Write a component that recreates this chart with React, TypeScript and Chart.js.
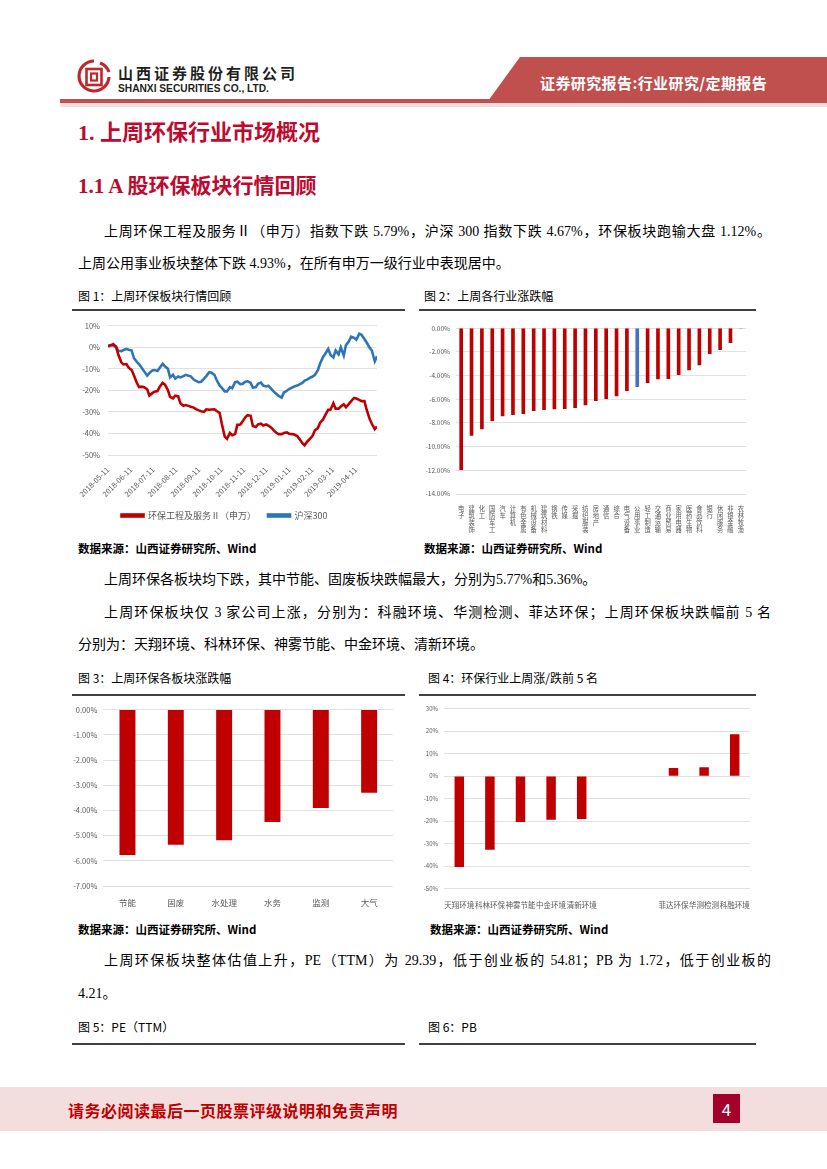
import React, { useEffect, useRef } from 'react';
import { Chart, registerables } from 'chart.js';
Chart.register(...registerables);

// ---------- Chart 1 data (weekly Friday + Tuesday readings) ----------
const fridayDates = [
  '2018-05-11','2018-05-18','2018-05-25','2018-06-01','2018-06-08','2018-06-15','2018-06-22','2018-06-29',
  '2018-07-06','2018-07-13','2018-07-20','2018-07-27','2018-08-03','2018-08-10','2018-08-17','2018-08-24','2018-08-31',
  '2018-09-07','2018-09-14','2018-09-21','2018-09-28','2018-10-05','2018-10-12','2018-10-19','2018-10-26',
  '2018-11-02','2018-11-09','2018-11-16','2018-11-23','2018-11-30','2018-12-07','2018-12-14','2018-12-21','2018-12-28',
  '2019-01-04','2019-01-11','2019-01-18','2019-01-25','2019-02-01','2019-02-08','2019-02-15','2019-02-22',
  '2019-03-01','2019-03-08','2019-03-15','2019-03-22','2019-03-29','2019-04-05','2019-04-12','2019-04-19','2019-04-26',
  '2019-05-03','2019-05-10'
];
const envFri = [0.5, 1.5, -3.5, -8, -9.5, -13, -18.5, -18.5, -22.4, -20.6, -18.3, -17.3, -23, -22.5, -26, -26.8, -27.6, -28.7, -29.7, -28.8, -28.9, -29.6, -35.5, -42.5, -40.8, -36, -34.5, -31.5, -36.5, -35.8, -36.3, -36.4, -38.5, -40.3, -39.8, -40.1, -40.5, -42.5, -45.5, -42.6, -38.5, -35, -31.5, -29, -28.5, -27.5, -27.8, -25, -23.8, -25, -29, -35.5, -36.8];
const envTue = [0.9, 0.2, -7, -7.8, -10.6, -16.5, -18.3, -19.5, -21.3, -20.3, -16.5, -19.8, -23.7, -22.8, -27.2, -27.2, -28, -29.3, -30, -29, -28.8, -30.4, -41.5, -39.8, -40.3, -35.9, -32.4, -31.8, -37, -35.5, -35.8, -37.3, -39.8, -40.3, -39.5, -40.3, -41.2, -44.5, -43.6, -41, -37.5, -33.5, -29, -26, -28.5, -26.5, -26.3, -23.5, -24.4, -25, -33.2, -38];
const hs300Fri = [0.5, 0.8, -1.6, -1.3, -1.2, -5, -7.8, -11.2, -12, -10.6, -9.5, -8.8, -14, -14.6, -14, -12.8, -13.5, -15.6, -16, -13.4, -11.8, -15.2, -18.8, -20.5, -19, -16, -17, -15.8, -18.8, -17, -17.8, -17.9, -20.5, -22.6, -21, -19.4, -18.2, -17.2, -15.5, -14.2, -12.8, -7.5, -3, -3.5, -1.5, 0, 1, 4.9, 3.5, 5.8, 2.2, -1.5, -4.2];
const hs300Tue = [1.0, 0, -1.8, -0.8, -1.5, -6.8, -9.8, -13.2, -10.8, -11, -7.7, -10, -12.8, -13.6, -13.4, -13.2, -15, -16.2, -14.6, -11.6, -12.8, -17.7, -20.5, -18.5, -16.2, -17.1, -16, -16.5, -18.5, -16.4, -18.2, -19.3, -21.7, -23.4, -20.2, -18.7, -17.8, -16.6, -14.9, -13.6, -10.6, -4.5, -0.8, -4.7, -3.3, -3.8, 2.8, 4.4, 6.3, 3.8, -0.2, -6.5];
const chart1TickLabels = ['2018-05-11','2018-06-11','2018-07-11','2018-08-11','2018-09-11','2018-10-11','2018-11-11','2018-12-11','2019-01-11','2019-02-11','2019-03-11','2019-04-11'];
const chart1Series = ['环保工程及服务Ⅱ（申万）', '沪深300'];

// ---------- Chart 2 data ----------
const industries = ['电子','建筑装饰','化工','国防军工','汽车','计算机','有色金属','机械设备','建筑材料','钢铁','传媒','采掘','纺织服装','房地产','通信','综合','电气设备','公用事业','轻工制造','交通运输','商业贸易','家用电器','医药生物','食品饮料','银行','休闲服务','非银金融','农林牧渔'];
const industryChange = [-11.95, -9.06, -8.5, -7.8, -7.41, -7.3, -7.21, -6.96, -6.87, -6.82, -6.79, -6.7, -6.48, -6.11, -5.94, -5.72, -5.27, -4.93, -4.59, -4.28, -4.25, -3.92, -3.52, -3.1, -2.14, -1.8, -1.21, 0.3];
const highlightIndustry = '公用事业';

// ---------- Chart 3 data ----------
const sectors = ['节能','固废','水处理','水务','监测','大气'];
const sectorChange = [-5.77, -5.36, -5.18, -4.46, -3.9, -3.3];

// ---------- Chart 4 data ----------
const stocks = ['天翔环境','科林环保','神雾节能','中金环境','清新环境','','','菲达环保','华测检测','科融环境'];
const stockChange: (number | null)[] = [-40.3, -32.7, -20.3, -19.4, -19.0, null, null, 3.6, 4.0, 18.7];

const RED = '#C00000';
const BLUE = '#2E75B6';
const GRID = '#d9d9d9';
const TICK = '#595959';
const chartFont = '"Noto Sans CJK SC","Liberation Sans",sans-serif';
const serif = '"Liberation Serif","Noto Sans CJK SC",serif';
const sans = '"Noto Sans CJK SC","Liberation Sans",sans-serif';

const day0 = Date.UTC(2018, 4, 11);
const toDay = (s: string) => {
  const [y, m, d] = s.split('-').map(Number);
  return Math.round((Date.UTC(y, m - 1, d) - day0) / 86400000);
};

function buildPoints(fri: number[], tue: number[]) {
  const pts: { x: number; y: number }[] = [];
  fridayDates.forEach((d, i) => {
    pts.push({ x: toDay(d), y: fri[i] });
    if (i < tue.length) pts.push({ x: toDay(d) + 4, y: tue[i] });
  });
  return pts;
}

function ChartBox({ left, top, width, height, make }: { left: number; top: number; width: number; height: number; make: () => any }) {
  const ref = useRef<HTMLCanvasElement>(null);
  useEffect(() => {
    const chart = new Chart(ref.current as HTMLCanvasElement, make());
    return () => chart.destroy();
  }, []);
  return (
    <div style={{ position: 'absolute', left, top, width, height }}>
      <canvas ref={ref} />
    </div>
  );
}

const tickDays = chart1TickLabels.map(toDay);

function chart1Config() {
  return {
    type: 'line',
    data: {
      datasets: [
        { label: chart1Series[0], data: buildPoints(envFri, envTue), borderColor: RED, backgroundColor: RED, borderWidth: 2.6, pointRadius: 0, tension: 0 },
        { label: chart1Series[1], data: buildPoints(hs300Fri, hs300Tue), borderColor: BLUE, backgroundColor: BLUE, borderWidth: 2.6, pointRadius: 0, tension: 0 },
      ],
    },
    options: {
      animation: false,
      responsive: true,
      maintainAspectRatio: false,
      layout: { padding: { left: 0, right: 28, top: 13.7, bottom: 4 } },
      plugins: {
        tooltip: { enabled: false },
        legend: {
          position: 'bottom',
          labels: { boxWidth: 22, boxHeight: 2, color: TICK, font: { size: 9, family: chartFont }, padding: 12 },
        },
      },
      scales: {
        x: {
          type: 'linear',
          min: 0,
          max: toDay(fridayDates[fridayDates.length - 1]),
          grid: { display: false },
          border: { display: false },
          afterBuildTicks: (s: any) => { s.ticks = tickDays.map((v) => ({ value: v })); },
          afterFit: (s: any) => { s.height = 44; },
          ticks: {
            autoSkip: false, minRotation: 45, maxRotation: 45, color: TICK, padding: 2,
            font: { size: 7.5, family: chartFont },
            callback: (v: number) => { const i = tickDays.indexOf(v); return i >= 0 ? chart1TickLabels[i] : ''; },
          },
        },
        y: {
          min: -50, max: 10,
          grid: { color: GRID, lineWidth: 0.8, drawTicks: false },
          border: { display: false },
          afterFit: (s: any) => { s.width = 36; },
          ticks: { stepSize: 10, color: TICK, padding: 8, font: { size: 7.5, family: chartFont }, callback: (v: number) => v + '%' },
        },
      },
    },
  };
}

function chart2Config() {
  return {
    type: 'bar',
    data: {
      labels: industries.map((s) => s.split('')),
      datasets: [{ data: industryChange, backgroundColor: industries.map((s) => (s === highlightIndustry ? '#4472C4' : RED)), barThickness: 3 }],
    },
    options: {
      animation: false,
      responsive: true,
      maintainAspectRatio: false,
      layout: { padding: { left: 0, right: 10, top: 16.3, bottom: 0 } },
      plugins: { legend: { display: false }, tooltip: { enabled: false } },
      scales: {
        x: {
          grid: { display: false },
          border: { display: false },
          afterFit: (s: any) => { s.height = 40; },
          ticks: { autoSkip: false, minRotation: 0, maxRotation: 0, color: TICK, padding: 3, font: { size: 6.3, family: chartFont, lineHeight: 1.1 } },
        },
        y: {
          min: -14, max: 0,
          grid: { color: GRID, lineWidth: 0.8, drawTicks: false },
          border: { display: false },
          afterFit: (s: any) => { s.width = 38; },
          ticks: { stepSize: 2, color: TICK, padding: 6, font: { size: 6.5, family: chartFont }, callback: (v: number) => v.toFixed(2) + '%' },
        },
      },
    },
  };
}

function chart3Config() {
  return {
    type: 'bar',
    data: {
      labels: sectors,
      datasets: [{ data: sectorChange, backgroundColor: RED, categoryPercentage: 1, barPercentage: 0.33 }],
    },
    options: {
      animation: false,
      responsive: true,
      maintainAspectRatio: false,
      layout: { padding: { left: 0, right: 11.7, top: 12.7, bottom: 0 } },
      plugins: { legend: { display: false }, tooltip: { enabled: false } },
      scales: {
        x: {
          grid: { display: false },
          border: { display: false },
          afterFit: (s: any) => { s.height = 26; },
          ticks: { color: TICK, padding: 4, font: { size: 8.5, family: chartFont } },
        },
        y: {
          min: -7, max: 0,
          grid: { color: GRID, lineWidth: 0.8, drawTicks: false },
          border: { display: false },
          afterFit: (s: any) => { s.width = 31.3; },
          ticks: { stepSize: 1, color: TICK, padding: 6, font: { size: 7.5, family: chartFont }, callback: (v: number) => v.toFixed(2) + '%' },
        },
      },
    },
  };
}

function chart4Config() {
  return {
    type: 'bar',
    data: {
      labels: stocks,
      datasets: [{ data: stockChange, backgroundColor: RED, categoryPercentage: 1, barPercentage: 0.31 }],
    },
    options: {
      animation: false,
      responsive: true,
      maintainAspectRatio: false,
      layout: { padding: { left: 0, right: 6, top: 11.7, bottom: 0 } },
      plugins: { legend: { display: false }, tooltip: { enabled: false } },
      scales: {
        x: {
          grid: { display: false },
          border: { display: false },
          afterFit: (s: any) => { s.height = 23.3; },
          ticks: { autoSkip: false, minRotation: 0, maxRotation: 0, color: TICK, padding: 4, font: { size: 7.5, family: chartFont } },
        },
        y: {
          min: -50, max: 30,
          grid: { color: GRID, lineWidth: 0.8, drawTicks: false },
          border: { display: false },
          afterFit: (s: any) => { s.width = 26; },
          ticks: { stepSize: 10, color: TICK, padding: 6, font: { size: 6, family: chartFont }, callback: (v: number) => v + '%' },
        },
      },
    },
  };
}

function Txt({ x, y, size, children, color = '#000', bold = false, family = serif, width, justify = false, spacing = 0 }: any) {
  const lh = size * 1.4;
  return (
    <div
      style={{
        position: 'absolute', left: x, top: y - lh / 2, height: lh, lineHeight: lh + 'px', fontSize: size,
        color, fontWeight: bold ? 700 : 400, fontFamily: family, whiteSpace: 'nowrap', letterSpacing: spacing,
        width: width, textAlign: justify ? 'justify' : 'left', textAlignLast: justify ? 'justify' : 'auto',
      } as any}
    >
      {children}
    </div>
  );
}

function Rule({ x, y, w, h = 1.5, color = '#404040' }: any) {
  return <div style={{ position: 'absolute', left: x, top: y, width: w, height: h, background: color }} />;
}

const TITLE_RED = '#be0a2e';

export default function App() {
  return (
    <div style={{ position: 'absolute', left: 0, top: 0, width: 827, height: 1169, background: '#fff', overflow: 'hidden' }}>
      {/* header */}
      <svg style={{ position: 'absolute', left: 76, top: 58 }} width={36} height={38} viewBox="0 0 36 38">
        <path d="M18 3 A15 15 0 1 0 33 19" fill="none" stroke="#c0272d" strokeWidth={3.2} />
        <path d="M24 5 A15 15 0 0 1 33 14" fill="none" stroke="#c0272d" strokeWidth={3.2} />
        <rect x={10.5} y={11} width={15} height={16} fill="none" stroke="#c0272d" strokeWidth={2.6} />
        <rect x={15} y={15.5} width={6} height={7} fill="none" stroke="#c0272d" strokeWidth={2.2} />
      </svg>
      <Txt x={118} y={72} size={15} bold family={sans} color="#231f20" spacing={3}>山西证券股份有限公司</Txt>
      <Txt x={118} y={89} size={10.2} bold family='"Liberation Sans",sans-serif' color="#231f20">SHANXI SECURITIES CO., LTD.</Txt>
      <div style={{ position: 'absolute', left: 488, top: 57, width: 339, height: 44, background: '#c0504d', clipPath: 'polygon(32px 0, 100% 0, 100% 100%, 0 100%)' }} />
      <Txt x={540} y={82} size={15} bold family={sans} color="#fff" spacing={0.4}>证券研究报告:行业研究/定期报告</Txt>
      <Rule x={60} y={99} w={767} h={3.5} color="#c0504d" />
      <Rule x={60} y={102.5} w={767} h={4} color="#f4dedd" />

      {/* headings */}
      <Txt x={78} y={133} size={22} bold color={TITLE_RED}>1. 上周环保行业市场概况</Txt>
      <Txt x={78} y={187} size={21} bold color={TITLE_RED}>1.1 A 股环保板块行情回顾</Txt>

      <Txt x={104} y={232} size={14} width={667} justify>上周环保工程及服务Ⅱ（申万）指数下跌 5.79%，沪深 300 指数下跌 4.67%，环保板块跑输大盘 1.12%。</Txt>
      <Txt x={78} y={264} size={14}>上周公用事业板块整体下跌 4.93%，在所有申万一级行业中表现居中。</Txt>

      <Txt x={78} y={296} size={12} family={sans}>图 1：上周环保板块行情回顾</Txt>
      <Txt x={424} y={296} size={12} family={sans}>图 2：上周各行业涨跌幅</Txt>
      <Rule x={72} y={309} w={333} />
      <Rule x={419} y={309} w={337} />

      <ChartBox left={72} top={312} width={333} height={222} make={chart1Config} />
      <ChartBox left={418} top={312} width={338} height={222} make={chart2Config} />

      <Txt x={78} y={548} size={11.5} bold family={sans}>数据来源：山西证券研究所、Wind</Txt>
      <Txt x={424} y={548} size={11.5} bold family={sans}>数据来源：山西证券研究所、Wind</Txt>

      <Txt x={104} y={580} size={14}>上周环保各板块均下跌，其中节能、固废板块跌幅最大，分别为5.77%和5.36%。</Txt>
      <Txt x={104} y={613} size={14} width={667} justify>上周环保板块仅 3 家公司上涨，分别为：科融环境、华测检测、菲达环保；上周环保板块跌幅前 5 名</Txt>
      <Txt x={78} y={645} size={14}>分别为：天翔环境、科林环保、神雾节能、中金环境、清新环境。</Txt>

      <Txt x={78} y={678} size={12} family={sans}>图 3：上周环保各板块涨跌幅</Txt>
      <Txt x={428} y={678} size={12} family={sans}>图 4：环保行业上周涨/跌前 5 名</Txt>
      <Rule x={72} y={694} w={333} />
      <Rule x={419} y={694} w={337} />

      <ChartBox left={72} top={697} width={333} height={215} make={chart3Config} />
      <ChartBox left={418} top={697} width={338} height={215} make={chart4Config} />

      <Txt x={78} y={929} size={11.5} bold family={sans}>数据来源：山西证券研究所、Wind</Txt>
      <Txt x={430} y={929} size={11.5} bold family={sans}>数据来源：山西证券研究所、Wind</Txt>

      <Txt x={104} y={961} size={14} width={667} justify>上周环保板块整体估值上升，PE（TTM）为 29.39，低于创业板的 54.81；PB 为 1.72，低于创业板的</Txt>
      <Txt x={78} y={994} size={14}>4.21。</Txt>

      <Txt x={78} y={1027} size={12} family={sans}>图 5：PE（TTM）</Txt>
      <Txt x={428} y={1027} size={12} family={sans}>图 6：PB</Txt>
      <Rule x={72} y={1043} w={333} />
      <Rule x={419} y={1043} w={337} />

      {/* footer */}
      <div style={{ position: 'absolute', left: 0, top: 1087, width: 827, height: 44, background: '#f3dedd' }} />
      <Txt x={68} y={1110} size={16} bold family={sans} color="#c00000" spacing={0.5}>请务必阅读最后一页股票评级说明和免责声明</Txt>
      <div style={{ position: 'absolute', left: 713, top: 1094, width: 27, height: 29, background: '#a5002a', color: '#fff', fontFamily: sans, fontSize: 17, lineHeight: '29px', textAlign: 'center' }}>4</div>
    </div>
  );
}
